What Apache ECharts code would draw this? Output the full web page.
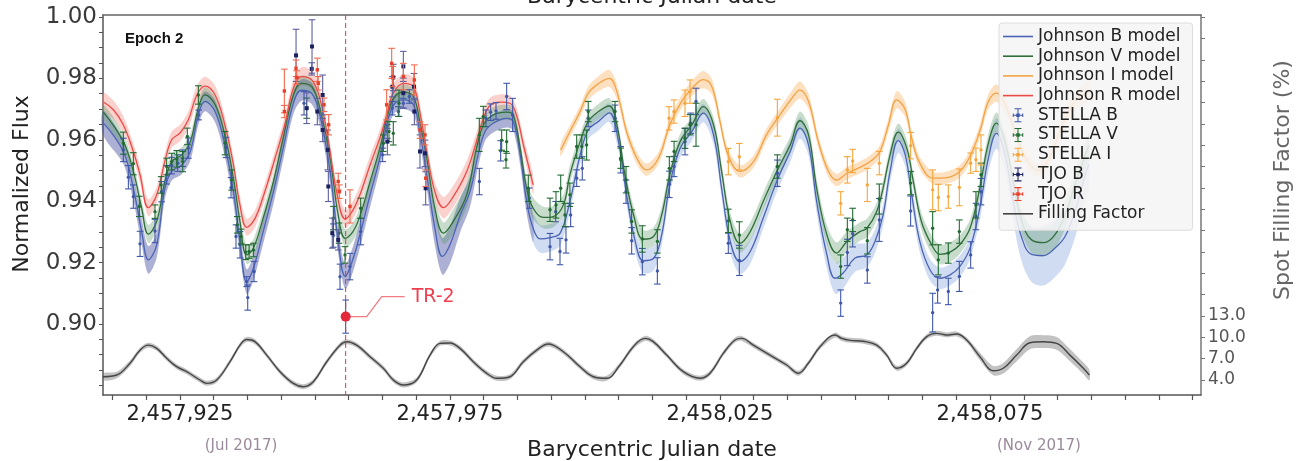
<!DOCTYPE html>
<html>
<head>
<meta charset="utf-8">
<script src="https://cdn.jsdelivr.net/npm/echarts@6/dist/echarts.min.js"></script>
<style>
  html, body { margin: 0; padding: 0; background: #ffffff; }
  #chart { width: 1298px; height: 461px; }
</style>
</head>
<body>
<div id="chart"></div>
<script>
// Times are days after BJD 2,457,900.
const BJD0 = 2457900;

// ---- axes ----
const X_MIN = 10.741, X_MAX = 214.074;
const X_LABEL_T = [25, 75, 125, 175];
const X_LABELS = ['2,457,925', '2,457,975', '2,458,025', '2,458,075'];
const X_TICK_STEP = 6.25;
const MONTH_T = [36.3, 184.07];
const MONTH_LABELS = ['(Jul 2017)', '(Nov 2017)'];
const FLUX_MIN = 0.87687, FLUX_MAX = 1.00065;
const FLUX_LABELS = [0.90, 0.92, 0.94, 0.96, 0.98, 1.00];
const FLUX_TICK_STEP = 0.005;
const FF_MIN = 1.891, FF_MAX = 55.33;
const FF_LABELS = [4, 7, 10, 13];
const FF_TICK_STEP = 3;

// ---- Johnson B model (centre and 1-sigma half width) ----
const B_T = [10.8,14.5,16.36,17.9,19.14,20.68,22.2,23.46,25.3,26.9,
  28.4,29.63,31.5,33.3,34.9,36.1,37.35,38.6,40.4,42.3,
  44.1,46.0,47.5,49.4,50.9,52.8,54.3,55.6,57.0,58.3,
  60.2,62.0,63.6,64.8,66.4,68.2,69.4,70.7,72.2,73.6,
  75.0,76.9,78.7,80.2,81.5,83.0,85.5,86.7,88.0,89.2,
  90.4,91.7,93.5,95.4,97.2,99.1,100.6,102.5,104.5,106.2,
  107.7,109.3,110.8,112.7,114.2,115.7,117.6,119.8,121.9,123.8,
  125.3,126.9,128.7,130.6,133.0,135.5,138.0,139.8,141.4,142.9,
  144.8,146.3,147.8,150.0,152.2,153.7,155.2,156.5,158.0,159.3,
  160.5,162.0,163.9,165.7,167.6,169.4,171.3,173.1,174.7,176.2,
  177.8,179.3,180.9,182.7,184.9,187.0,188.9,190.8,192.2,193.3];
const B_F = [0.9655,0.9562,0.9442,0.9301,0.9209,0.9258,0.9442,0.9497,0.9518,0.9562,
  0.9681,0.9725,0.9692,0.9583,0.9431,0.9269,0.9138,0.9182,0.9301,0.9431,
  0.9572,0.9719,0.9762,0.9751,0.9681,0.9497,0.9269,0.9155,0.9210,0.9290,
  0.9421,0.9540,0.9670,0.9719,0.9730,0.9714,0.9627,0.9486,0.9312,0.9220,
  0.9258,0.9355,0.9431,0.9551,0.9627,0.9654,0.9670,0.9660,0.9551,0.9399,
  0.9312,0.9277,0.9281,0.9296,0.9399,0.9551,0.9632,0.9660,0.9688,0.9594,
  0.9421,0.9269,0.9206,0.9214,0.9290,0.9453,0.9572,0.9627,0.9687,0.9616,
  0.9442,0.9269,0.9203,0.9236,0.9345,0.9464,0.9562,0.9638,0.9583,0.9399,
  0.9225,0.9149,0.9166,0.9215,0.9225,0.9269,0.9355,0.9497,0.9597,0.9551,
  0.9421,0.9269,0.9176,0.9149,0.9160,0.9187,0.9247,0.9377,0.9540,0.9621,
  0.9551,0.9399,0.9280,0.9227,0.9223,0.9247,0.9285,0.9370,0.9460,0.9520];
const B_W = [.004,.004,.004,.0042,.0045,.0042,.0035,.003,.003,.003,
  .0032,.0032,.0035,.0038,.004,.004,.004,.004,.004,.004,
  .0038,.0035,.0035,.0035,.0035,.004,.004,.004,.0042,.0042,
  .004,.0035,.003,.003,.003,.003,.0035,.0045,.0055,.006,
  .006,.0055,.005,.004,.003,.003,.003,.003,.0035,.004,
  .0045,.0045,.0045,.004,.0035,.003,.003,.003,.003,.003,
  .0032,.0035,.004,.004,.0035,.003,.003,.003,.003,.003,
  .0032,.0038,.004,.004,.0035,.0035,.0035,.0035,.0035,.0038,
  .0045,.005,.005,.0045,.004,.0038,.0035,.0035,.004,.0038,
  .0035,.0035,.0035,.0035,.0035,.0035,.0035,.004,.0045,.005,
  .0055,.0065,.0078,.009,.0098,.0095,.009,.0085,.008,.0075];
// the B band is shaded darker while TJO B data overlap the model
const B_DARK_END_T = 90.4;

// ---- Johnson V model ----
const V_T = [10.8,14.5,16.36,17.9,19.14,20.68,22.2,23.46,25.3,26.9,
  28.4,29.63,31.5,33.3,34.9,36.1,37.35,38.6,40.4,42.3,
  44.1,46.0,47.5,49.4,50.9,52.8,54.3,55.6,57.0,58.3,
  60.2,62.0,63.6,64.8,66.4,68.2,69.4,70.7,72.2,73.8,
  75.6,78.1,79.9,81.2,83.0,85.5,86.7,88.0,89.2,90.4,
  92.3,94.1,96.0,97.2,99.1,100.6,102.5,104.5,105.9,107.4,
  109.0,110.8,112.7,114.2,115.7,117.6,119.8,121.9,123.8,125.3,
  126.9,128.7,130.6,133.0,135.5,138.0,139.8,141.4,142.9,144.8,
  146.6,148.5,150.9,152.2,154.0,155.2,156.5,158.0,159.6,160.8,
  162.3,164.2,165.7,167.6,169.4,171.3,173.1,174.7,176.2,177.8,
  179.3,180.9,182.7,185.0,187.0,189.0,191.0,193.3];
const V_F = [0.9690,0.9594,0.9497,0.9377,0.9293,0.9334,0.9464,0.9529,0.9551,0.9594,
  0.9703,0.9746,0.9714,0.9616,0.9475,0.9334,0.9225,0.9247,0.9345,0.9464,
  0.9605,0.9746,0.9784,0.9773,0.9703,0.9540,0.9355,0.9279,0.9300,0.9350,
  0.9464,0.9572,0.9692,0.9741,0.9755,0.9741,0.9660,0.9540,0.9377,0.9296,
  0.9334,0.9421,0.9572,0.9649,0.9681,0.9690,0.9681,0.9572,0.9442,0.9377,
  0.9347,0.9350,0.9388,0.9486,0.9594,0.9660,0.9692,0.9710,0.9649,0.9486,
  0.9355,0.9276,0.9285,0.9355,0.9486,0.9594,0.9649,0.9708,0.9649,0.9497,
  0.9334,0.9263,0.9301,0.9399,0.9497,0.9583,0.9662,0.9616,0.9442,0.9290,
  0.9231,0.9269,0.9301,0.9312,0.9366,0.9442,0.9551,0.9625,0.9572,0.9464,
  0.9334,0.9258,0.9227,0.9234,0.9258,0.9312,0.9442,0.9589,0.9654,0.9594,
  0.9464,0.9334,0.9274,0.9265,0.9290,0.9360,0.9470,0.9580];
const V_W = [.0025,.0025,.0025,.0028,.003,.0028,.0025,.0025,.0025,.0025,
  .0025,.0025,.0025,.0025,.0025,.0028,.003,.003,.0028,.0025,
  .0025,.0025,.0025,.0025,.0025,.0025,.0028,.003,.003,.003,
  .0028,.0025,.0025,.0025,.0025,.0025,.0025,.0028,.0032,.0035,
  .004,.004,.003,.0025,.0025,.0025,.0025,.0028,.003,.0035,
  .0035,.0035,.0033,.003,.0025,.0025,.0025,.0025,.0025,.0025,
  .0028,.003,.003,.0028,.0025,.0025,.0025,.0025,.0025,.0025,
  .0028,.003,.003,.0028,.0028,.0028,.003,.003,.003,.0032,
  .0035,.0033,.003,.003,.0028,.0025,.0025,.0028,.0028,.0025,
  .0028,.003,.0032,.0032,.003,.0028,.0028,.003,.0035,.003,
  .0035,.004,.0042,.0045,.0045,.0045,.0042,.004];

// ---- Johnson R model ----
const R_T = [10.8,12.66,14.5,16.36,17.6,19.14,20.68,22.2,23.46,25.0,
  26.55,28.09,29.63,31.5,33.3,34.9,36.1,37.35,38.9,40.7,
  42.6,44.4,46.0,47.5,49.4,50.9,52.5,54.0,55.6,57.0,
  58.3,60.2,62.0,63.3,64.5,66.4,68.2,69.4,70.7,72.2,
  73.8,75.6,78.1,79.9,81.2,82.4,84.3,86.1,87.3,88.6,
  90.4];
const R_F = [0.9723,0.9698,0.9649,0.9562,0.9486,0.9379,0.9420,0.9530,0.9600,0.9622,
  0.9665,0.9745,0.9775,0.9746,0.9649,0.9518,0.9388,0.9315,0.9344,0.9431,
  0.9540,0.9649,0.9768,0.9806,0.9795,0.9735,0.9594,0.9431,0.9342,0.9370,
  0.9420,0.9518,0.9605,0.9681,0.9752,0.9784,0.9773,0.9692,0.9562,0.9431,
  0.9379,0.9415,0.9497,0.9594,0.9670,0.9712,0.9723,0.9719,0.9681,0.9583,
  0.9453];
const R_W = [.003,.003,.0028,.0027,.0027,.0027,.0027,.0027,.0027,.0027,
  .0027,.003,.003,.003,.0027,.0027,.0027,.0027,.0027,.0027,
  .0027,.0027,.003,.003,.003,.0027,.0027,.0027,.0028,.003,
  .003,.003,.0027,.0027,.003,.003,.003,.0027,.0027,.003,
  .0035,.0035,.0035,.003,.0027,.0025,.0025,.0025,.0025,.0027,
  .003];

// ---- Johnson I model ----
const I_T = [95.5,97.2,99.1,100.6,102.6,104.5,105.9,107.7,109.6,111.4,
  113.6,115.7,117.9,120.1,121.9,123.5,125.0,126.5,128.7,131.2,
  133.6,136.1,138.3,139.8,141.4,143.2,145.1,146.6,148.5,150.9,
  152.8,154.6,156.2,157.7,159.3,160.5,162.0,164.5,167.0,169.4,
  171.3,173.1,174.7,176.2,178.1,180.0,182.0,184.0,186.0,188.0,
  190.5,193.3];
const I_F = [0.9567,0.9627,0.9692,0.9752,0.9784,0.9800,0.9757,0.9627,0.9540,0.9502,
  0.9540,0.9649,0.9725,0.9773,0.9796,0.9773,0.9660,0.9551,0.9497,0.9529,
  0.9616,0.9681,0.9735,0.9762,0.9725,0.9594,0.9497,0.9469,0.9491,0.9510,
  0.9529,0.9562,0.9649,0.9730,0.9698,0.9605,0.9524,0.9475,0.9477,0.9497,
  0.9546,0.9627,0.9725,0.9752,0.9703,0.9605,0.9530,0.9500,0.9540,0.9630,
  0.9720,0.9760];
const I_W = [.002,.002,.002,.0022,.0025,.0028,.0025,.002,.002,.002,
  .002,.002,.0022,.0025,.0028,.0025,.002,.002,.002,.002,
  .002,.0022,.0025,.0028,.0025,.002,.002,.002,.002,.002,
  .002,.002,.0022,.0028,.0025,.002,.002,.002,.002,.002,
  .002,.0022,.0025,.0028,.0025,.0022,.0022,.0022,.0025,.0028,
  .003,.003];

// ---- spot filling factor (%) ----
const FF_T = [10.74,13.28,15.74,17.59,19.13,20.69,22.54,24.39,26.24,28.70,
  29.94,31.80,34.26,36.11,37.35,38.89,41.06,43.52,45.98,47.83,
  49.69,52.17,54.63,55.87,57.72,60.19,62.65,64.5,66.35,68.83,
  71.3,73.15,75.0,76.85,79.31,81.8,83.65,86.11,88.57,91.06,
  93.2,95.98,99.07,101.54,104.02,106.48,108.94,111.11,112.65,115.13,
  118.2,121.3,123.15,125.61,127.78,129.02,131.17,134.26,137.35,139.5,
  141.35,143.52,146.3,147.54,149.07,151.54,154.02,155.87,157.72,159.57,
  161.43,163.28,165.13,166.98,168.83,170.69,173.15,175.61,177.46,179.94,
  182.41,184.87,187.35,189.81,192.28,193.39];
const FF_V = [4.46,4.7,6.35,8.2,8.9,8.45,7.05,5.87,5.17,4.0,
  3.53,4.0,6.57,8.9,9.7,9.39,7.5,5.17,3.53,3.06,
  3.76,6.57,8.9,9.39,8.9,7.28,5.65,4.0,3.3,4.0,
  7.5,9.15,9.2,8.45,6.57,4.94,4.24,4.46,6.57,8.2,
  9.06,7.98,5.87,4.46,4.24,6.11,8.68,9.85,9.39,7.5,
  5.17,4.24,4.94,7.75,9.63,9.85,8.9,7.5,6.11,4.94,
  6.35,8.68,10.33,9.85,9.58,9.45,8.9,7.5,5.65,6.35,
  8.45,10.1,10.56,10.33,10.47,9.63,7.28,5.31,5.65,7.5,
  9.24,9.39,9.15,7.5,5.65,4.7];
const FF_W = [.5,.45,.4,.35,.35,.35,.35,.35,.35,.35,
  .35,.35,.35,.35,.35,.35,.35,.35,.35,.35,
  .35,.35,.35,.35,.35,.35,.35,.35,.35,.35,
  .35,.35,.35,.35,.35,.35,.35,.35,.35,.35,
  .35,.35,.35,.35,.35,.35,.35,.35,.35,.35,
  .35,.35,.35,.35,.35,.35,.35,.35,.35,.35,
  .35,.35,.35,.35,.35,.35,.35,.35,.35,.35,
  .35,.35,.35,.35,.35,.35,.55,.65,.75,.85,
  .9,.9,.9,.85,.8,.75];

// ---- photometry: [t, flux, error] ----
const STELLA_B = [
  [14.51,0.9567,0.0038],[15.44,0.9478,0.0038],[16.36,0.9415,0.0038],[17.60,0.9261,0.0041],
  [20.37,0.9303,0.0038],[21.60,0.9431,0.0033],[22.53,0.9486,0.0030],[23.46,0.9516,0.0027],
  [24.57,0.9524,0.0027],[25.50,0.9540,0.0027],[26.55,0.9573,0.0033],[28.46,0.9681,0.0016],
  [33.52,0.9575,0.0033],[34.45,0.9444,0.0033],[35.37,0.9285,0.0038],[36.12,0.9258,0.0043],
  [37.35,0.9138,0.0016],[37.54,0.9086,0.0041],[38.71,0.9171,0.0033],[47.97,0.9719,0.0038],
  [53.40,0.9288,0.0038],[54.63,0.9154,0.0041],[55.68,0.9024,0.0054],
  [56.48,0.9187,0.0043],[58.46,0.9301,0.0043],[62.53,0.9551,0.0022],[63.40,0.9627,0.0022],
  [64.32,0.9703,0.0022],[65.43,0.9692,0.0016],[66.36,0.9719,0.0016],[67.47,0.9741,0.0022],
  [80.43,0.9464,0.0043],[81.66,0.9670,0.0027],[82.53,0.9690,0.0027],[83.52,0.9694,0.0027],
  [84.38,0.9564,0.0033],[85.49,0.9741,0.0043],[86.60,0.9681,0.0054],[89.69,0.9410,0.0033],
  [93.52,0.9252,0.0043],[94.57,0.9366,0.0033],[95.37,0.9236,0.0043],[96.48,0.9274,0.0043],
  [97.34,0.9355,0.0038],[98.46,0.9475,0.0027],[99.50,0.9507,0.0038],[100.60,0.9670,0.0027],
  [105.56,0.9670,0.0043],[106.61,0.9535,0.0043],[107.60,0.9431,0.0038],[108.64,0.9271,0.0043],
  [110.62,0.9203,0.0043],[113.40,0.9173,0.0043],[115.62,0.9455,0.0043],[116.50,0.9513,0.0033],
  [118.52,0.9594,0.0043],[119.57,0.9654,0.0033],[120.56,0.9725,0.0043],[126.54,0.9263,0.0033],
  [128.58,0.9207,0.0049],[135.62,0.9491,0.0043],[147.35,0.9068,0.0043],[148.58,0.9233,0.0043],
  [149.57,0.9294,0.0043],[152.28,0.9176,0.0043],[154.50,0.9339,0.0070],[160.30,0.9368,0.0049],
  [164.38,0.9037,0.0063],[165.30,0.9111,0.0043],[167.28,0.9106,0.0043],[169.32,0.9155,0.0049],
  [171.42,0.9225,0.0043],[172.40,0.9350,0.0043],[173.33,0.9431,0.0043]
];
const STELLA_V = [
  [14.51,0.9589,0.0036],[16.36,0.9522,0.0036],[17.47,0.9383,0.0033],[20.37,0.9366,0.0022],
  [21.50,0.9453,0.0027],[22.53,0.9513,0.0027],[23.46,0.9529,0.0027],[24.39,0.9538,0.0027],
  [25.50,0.9529,0.0033],[26.36,0.9611,0.0027],[28.40,0.9746,0.0030],[33.34,0.9589,0.0038],
  [34.57,0.9469,0.0033],[35.60,0.9323,0.0027],[36.30,0.9285,0.0024],[37.17,0.9234,0.0024],
  [37.80,0.9236,0.0022],[38.60,0.9241,0.0022],[48.46,0.9703,0.0033],[53.40,0.9345,0.0038],
  [54.45,0.9296,0.0033],[55.56,0.9225,0.0027],
  [58.46,0.9377,0.0033],[62.65,0.9589,0.0027],[63.70,0.9627,0.0033],[64.50,0.9621,0.0038],
  [65.55,0.9719,0.0043],[80.43,0.9616,0.0054],[81.17,0.9676,0.0033],[84.57,0.9599,0.0033],
  [85.37,0.9535,0.0027],[85.49,0.9594,0.0038],[89.50,0.9442,0.0043],[93.52,0.9372,0.0038],
  [94.63,0.9388,0.0043],[95.50,0.9442,0.0043],[96.30,0.9355,0.0038],[97.20,0.9421,0.0038],
  [98.46,0.9578,0.0038],[99.40,0.9578,0.0038],[100.30,0.9583,0.0049],[100.60,0.9692,0.0033],
  [105.56,0.9692,0.0033],[106.61,0.9540,0.0033],[107.60,0.9470,0.0043],[108.64,0.9334,0.0038],
  [110.62,0.9277,0.0043],[113.40,0.9269,0.0038],[115.62,0.9507,0.0038],[116.50,0.9562,0.0033],
  [118.52,0.9605,0.0033],[119.45,0.9649,0.0033],[120.56,0.9649,0.0070],[126.54,0.9336,0.0038],
  [128.58,0.9290,0.0043],[135.62,0.9513,0.0038],[147.35,0.9187,0.0038],[148.58,0.9307,0.0038],
  [149.57,0.9339,0.0038],[152.28,0.9271,0.0043],[154.50,0.9407,0.0049],[160.30,0.9459,0.0038],
  [164.38,0.9312,0.0054],[165.43,0.9209,0.0049],[167.28,0.9231,0.0033],[169.32,0.9301,0.0038],
  [172.40,0.9388,0.0043],[173.33,0.9486,0.0038]
];
const STELLA_I = [
  [115.56,0.9670,0.0038],[116.48,0.9692,0.0038],[118.52,0.9719,0.0043],[119.45,0.9757,0.0038],
  [126.54,0.9529,0.0043],[128.58,0.9545,0.0043],[135.62,0.9672,0.0060],[147.35,0.9393,0.0038],
  [148.58,0.9502,0.0043],[149.57,0.9531,0.0038],[152.28,0.9453,0.0054],[154.50,0.9524,0.0038],
  [160.30,0.9581,0.0043],[164.38,0.9437,0.0065],[165.43,0.9412,0.0043],[167.28,0.9415,0.0038],
  [169.32,0.9445,0.0060],[171.42,0.9524,0.0033],[172.40,0.9535,0.0038],[173.33,0.9567,0.0049]
];
const TJO_B = [
  [46.49,0.9875,0.0085],[48.46,0.9703,0.0050],[49.40,0.9831,0.0020],[49.45,0.9904,0.0087],
  [50.43,0.9692,0.0043],[51.42,0.9746,0.0065],[51.42,0.9632,0.0038],[52.35,0.9567,0.0065],
  [52.47,0.9448,0.0049],[53.20,0.9296,0.0049],[54.30,0.9274,0.0033],
  [63.40,0.9594,0.0043],[64.32,0.9773,0.0033],[64.50,0.9803,0.0043],[66.36,0.9839,0.0049],
  [66.36,0.9752,0.0049],[68.33,0.9773,0.0043],[68.40,0.9692,0.0043],[69.44,0.9562,0.0054],
  [70.37,0.9556,0.0043],[70.49,0.9442,0.0054]
];
const TJO_R = [
  [44.33,0.9759,0.0071],[44.33,0.9692,0.0020],[46.49,0.9833,0.0027],[46.60,0.9803,0.0022],
  [50.43,0.9828,0.0038],[50.60,0.9784,0.0022],[51.67,0.9714,0.0022],[52.53,0.9649,0.0033],
  [54.30,0.9464,0.0027],[54.50,0.9431,0.0022],[56.48,0.9383,0.0054],
  [63.27,0.9714,0.0049],[64.20,0.9849,0.0049],[64.38,0.9806,0.0033],[66.36,0.9806,0.0043],
  [68.40,0.9795,0.0049],[69.44,0.9632,0.0027],[70.37,0.9616,0.0033],[70.49,0.9475,0.0027]
];

// the marked dip
const TR2_T = 55.68, TR2_F = 0.9024;

// ---- styling ----
const FONT = 'DejaVu Sans';
const SMOOTH = 0.4;
const COL = {
  B: '#4a63b4', V: '#2f6e3b', I: '#f4a244', R: '#eb4a47', FF: '#454545',
  bandBdark: 'rgba(72,82,162,0.46)', bandBlight: 'rgba(150,178,226,0.45)',
  bandV: 'rgba(88,150,100,0.33)', bandR: 'rgba(242,140,130,0.40)',
  bandI: 'rgba(250,186,112,0.45)', bandFF: 'rgba(110,110,110,0.42)'
};

function steps(a, b, s) {
  const out = [];
  for (let k = 0; a + k * s <= b + 1e-9; k++) out.push(+(a + k * s).toFixed(4));
  return out;
}
const X_TICKS = steps(12.5, 212.5, X_TICK_STEP);
const Y_TICKS = steps(0.88, 1.0, FLUX_TICK_STEP);
const FF_TICKS = steps(4, 55, FF_TICK_STEP);

function nearestLabel(v, values, labels) {
  let best = 0;
  values.forEach((x, i) => { if (Math.abs(x - v) < Math.abs(values[best] - v)) best = i; });
  return labels[best];
}

function pairs(T, F) { return T.map((t, i) => [t, F[i]]); }

// Uncertainty band: a smoothed polygon running along centre + w and back along centre - w.
function band(name, T, F, W, color, yAxisIndex) {
  return {
    type: 'custom', name: name, silent: true, z: 1,
    yAxisIndex: yAxisIndex || 0,
    data: [[T[0], F[0]]], encode: { x: 0, y: 1 },
    renderItem: function (params, api) {
      const up = T.map((t, i) => api.coord([t, F[i] + W[i]]));
      const dn = T.map((t, i) => api.coord([t, F[i] - W[i]])).reverse();
      return { type: 'polygon', shape: { points: up.concat(dn), smooth: 0.3 }, style: { fill: color } };
    }
  };
}

function model(name, T, F, color, extra) {
  return Object.assign({
    type: 'line', name: name, data: pairs(T, F), smooth: SMOOTH, symbol: 'none',
    lineStyle: { color: color, width: 1.3 }, itemStyle: { color: color }, z: 2, silent: true
  }, extra || {});
}

function errorBars(name, pts, barColor, markColor, shape, size) {
  return {
    type: 'custom', name: name, data: pts, z: 3,
    encode: { x: 0, y: 1 },
    itemStyle: { color: markColor },
    renderItem: function (params, api) {
      const t = api.value(0), f = api.value(1), e = api.value(2);
      const c = api.coord([t, f]);
      const hi = api.coord([t, f + e]);
      const lo = api.coord([t, f - e]);
      const cap = 3.3;
      const ls = { stroke: barColor, lineWidth: 1.1 };
      const marker = shape === 'rect'
        ? { type: 'rect', shape: { x: c[0] - size / 2, y: c[1] - size / 2, width: size, height: size }, style: { fill: markColor } }
        : { type: 'circle', shape: { cx: c[0], cy: c[1], r: size }, style: { fill: markColor } };
      return { type: 'group', children: [
        { type: 'line', shape: { x1: c[0], y1: hi[1], x2: c[0], y2: lo[1] }, style: ls },
        { type: 'line', shape: { x1: c[0] - cap, y1: hi[1], x2: c[0] + cap, y2: hi[1] }, style: ls },
        { type: 'line', shape: { x1: c[0] - cap, y1: lo[1], x2: c[0] + cap, y2: lo[1] }, style: ls },
        marker
      ] };
    }
  };
}

const bDarkIdx = B_T.map((t, i) => i).filter(i => B_T[i] <= B_DARK_END_T);
const bLightIdx = B_T.map((t, i) => i).filter(i => B_T[i] >= B_DARK_END_T);
const pick = (arr, idx) => idx.map(i => arr[i]);

const LINE_ICON = 'path://M0,0H30V1.6H0Z';
const EB_ICON = 'path://M5.4,0H6.6V16H5.4Z M2,0H10V1.2H2Z M2,14.8H10V16H2Z M0,7.4H12V8.6H0Z M0,6H1.2V10H0Z M10.8,6H12V10H10.8Z M4,6H8V10H4Z';

const series = [
  band('R band', R_T, R_F, R_W, COL.bandR),
  band('B band (TJO)', pick(B_T, bDarkIdx), pick(B_F, bDarkIdx), pick(B_W, bDarkIdx), COL.bandBdark),
  band('B band', pick(B_T, bLightIdx), pick(B_F, bLightIdx), pick(B_W, bLightIdx), COL.bandBlight),
  band('V band', V_T, V_F, V_W, COL.bandV),
  band('I band', I_T, I_F, I_W, COL.bandI),
  band('FF band', FF_T, FF_V, FF_W, COL.bandFF, 1),
  model('Johnson B model', B_T, B_F, COL.B),
  model('Johnson V model', V_T, V_F, COL.V),
  model('Johnson I model', I_T, I_F, COL.I),
  model('Johnson R model', R_T, R_F, COL.R),
  model('Filling Factor', FF_T, FF_V, COL.FF, { yAxisIndex: 1, lineStyle: { color: COL.FF, width: 1.4 } }),
  errorBars('STELLA B', STELLA_B, '#4058aa', '#4058aa', 'circle', 1.7),
  errorBars('STELLA V', STELLA_V, '#226c33', '#226c33', 'circle', 1.7),
  errorBars('STELLA I', STELLA_I, '#f6a63c', '#f6a63c', 'circle', 1.7),
  errorBars('TJO B', TJO_B, '#5d619f', '#1c2260', 'rect', 4),
  errorBars('TJO R', TJO_R, '#f26a4e', '#e8402a', 'rect', 3.4),
  {
    // TR-2: epoch marker across the plot, highlighted point and its label
    type: 'custom', name: 'TR-2', data: [[TR2_T, TR2_F]], z: 4, silent: true,
    encode: { x: 0, y: 1 },
    renderItem: function (params, api) {
      const p = api.coord([api.value(0), api.value(1)]);
      const top = api.coord([api.value(0), FLUX_MAX]);
      const bottom = api.coord([api.value(0), FLUX_MIN]);
      return { type: 'group', children: [
        { type: 'line', shape: { x1: top[0], y1: top[1], x2: bottom[0], y2: bottom[1] },
          style: { stroke: '#dc3a44', lineWidth: 1, lineDash: [5, 3] } },
        { type: 'polyline', shape: { points: [[p[0] + 4, p[1]], [p[0] + 21, p[1]], [p[0] + 36, p[1] - 20], [p[0] + 59, p[1] - 20]] },
          style: { stroke: '#f27c84', lineWidth: 1.3, fill: 'none' } },
        { type: 'circle', shape: { cx: p[0], cy: p[1], r: 5 }, style: { fill: '#e3263a' } },
        { type: 'text', x: p[0] + 66, y: p[1] - 20,
          style: { text: 'TR-2', fontSize: 19, fontFamily: FONT, fill: '#ee3f4f', align: 'left', verticalAlign: 'middle' } }
      ] };
    }
  }
];

const chart = echarts.init(document.getElementById('chart'), null, { renderer: 'canvas' });
chart.setOption({
  animation: false,
  backgroundColor: '#ffffff',
  textStyle: { fontFamily: FONT },
  grid: { left: 103, right: 97, top: 15, bottom: 66, containLabel: false, outerBoundsMode: 'none' },
  legend: {
    orient: 'vertical', left: 999, top: 23,
    backgroundColor: 'rgba(246,244,244,0.86)', borderColor: '#dcdcdc', borderWidth: 1, borderRadius: 3,
    padding: [5, 12, 8, 4], itemGap: 2.7, itemWidth: 30, itemHeight: 14,
    selectedMode: false,
    textStyle: { fontSize: 17, color: '#222', lineHeight: 16, fontFamily: FONT },
    data: [
      { name: 'Johnson B model', icon: LINE_ICON },
      { name: 'Johnson V model', icon: LINE_ICON },
      { name: 'Johnson I model', icon: LINE_ICON },
      { name: 'Johnson R model', icon: LINE_ICON },
      { name: 'STELLA B', icon: EB_ICON },
      { name: 'STELLA V', icon: EB_ICON },
      { name: 'STELLA I', icon: EB_ICON },
      { name: 'TJO B', icon: EB_ICON },
      { name: 'TJO R', icon: EB_ICON },
      { name: 'Filling Factor', icon: LINE_ICON }
    ]
  },
  graphic: [
    { type: 'text', left: 125, top: 31, z: 10,
      style: { text: 'Epoch 2', font: 'bold 15px "Liberation Sans", Arial, sans-serif', fill: '#111' } }
  ],
  xAxis: [
    {
      type: 'value', min: X_MIN, max: X_MAX, position: 'bottom',
      axisLine: { show: true, onZero: false, lineStyle: { color: '#555', width: 1.5 } },
      axisTick: { show: true, length: 5, customValues: X_TICKS, lineStyle: { color: '#555', width: 1.2 } },
      axisLabel: { customValues: X_LABEL_T, formatter: v => nearestLabel(v, X_LABEL_T, X_LABELS),
        fontSize: 21, color: '#222', margin: 9 },
      splitLine: { show: false },
      name: 'Barycentric Julian date', nameLocation: 'middle', nameGap: 44,
      nameTextStyle: { fontSize: 22, color: '#222' }
    },
    {
      type: 'value', min: X_MIN, max: X_MAX, position: 'top',
      axisLine: { show: true, onZero: false, lineStyle: { color: '#666', width: 1.5 } },
      axisTick: { show: false }, axisLabel: { show: false }, splitLine: { show: false },
      name: 'Barycentric Julian date', nameLocation: 'middle', nameGap: 7,
      nameTextStyle: { fontSize: 22, color: '#222' }
    },
    {
      type: 'value', min: X_MIN, max: X_MAX, position: 'bottom', offset: 40,
      axisLine: { show: false }, axisTick: { show: false }, splitLine: { show: false },
      axisLabel: { customValues: MONTH_T, formatter: v => nearestLabel(v, MONTH_T, MONTH_LABELS),
        fontSize: 15, color: '#9b8a9b', margin: 4 }
    }
  ],
  yAxis: [
    {
      type: 'value', min: FLUX_MIN, max: FLUX_MAX, position: 'left',
      axisLine: { show: true, onZero: false, lineStyle: { color: '#555', width: 1.5 } },
      axisTick: { show: true, length: 4, customValues: Y_TICKS, lineStyle: { color: '#555' } },
      axisLabel: { customValues: FLUX_LABELS, formatter: v => v.toFixed(2), fontSize: 23, color: '#3a3a3a', margin: 6 },
      splitLine: { show: false },
      name: 'Normalized Flux', nameLocation: 'middle', nameGap: 70,
      nameTextStyle: { fontSize: 22, color: '#222', padding: [0, 0, 0, 42] }
    },
    {
      type: 'value', min: FF_MIN, max: FF_MAX, position: 'right',
      axisLine: { show: true, onZero: false, lineStyle: { color: '#777', width: 1.5 } },
      axisTick: { show: true, length: 4, customValues: FF_TICKS, lineStyle: { color: '#777' } },
      axisLabel: { customValues: FF_LABELS, formatter: v => v.toFixed(1), fontSize: 17, color: '#555', margin: 7 },
      splitLine: { show: false },
      name: 'Spot Filling Factor (%)', nameLocation: 'middle', nameGap: 71,
      nameTextStyle: { fontSize: 22, color: '#666', padding: [0, 0, 0, 50] }
    }
  ],
  series: series
});
</script>
</body>
</html>
